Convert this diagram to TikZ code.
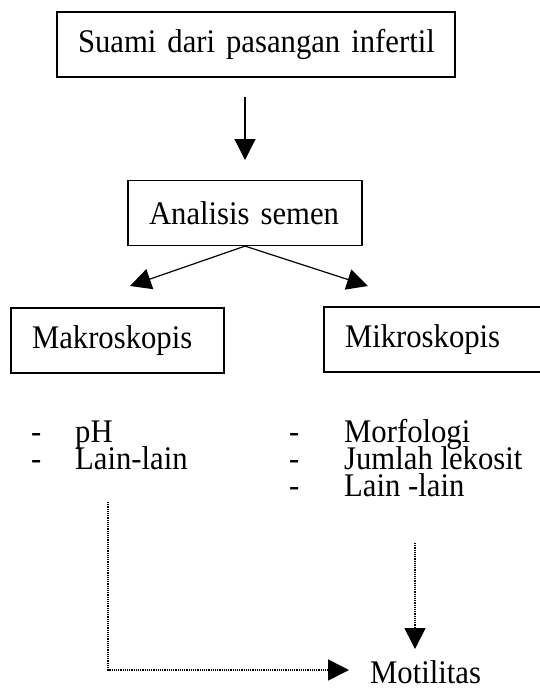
\documentclass[tikz,border=0pt]{standalone}
\usepackage{fontspec}
\setmainfont[FakeStretch=0.93]{Liberation Serif}
\usetikzlibrary{arrows.meta,positioning}
\hyphenpenalty=10000

\begin{document}
\begin{tikzpicture}[
  x=1pt,y=-1pt,
  font=\fontsize{33}{38}\selectfont,
  box/.style={draw,line width=1.2pt,inner xsep=21pt,inner ysep=0pt,
              align=left,minimum height=65pt},
  item/.style={inner sep=0pt,anchor=base west},
  arr/.style={-{Triangle[length=21pt,width=21pt]},line width=1.2pt},
  dotarr/.style={-{Triangle[length=21pt,width=21pt]},line width=1.6pt,
                 dash pattern=on 1.2pt off 1pt}
]
  \useasboundingbox (0,0) rectangle (539,689);

  \node[box,text width=356pt](top) at (256,44.5){Suami~dari~pasangan~infertil};
  \node[box,text width=192pt](analisis) at (245,213){Analisis semen};
  \node[box,text width=171pt](makro) at (117.5,340.5){Makroskopis};
  \node[box,text width=194pt](mikro) at (442,339.5){Mikroskopis};

  % lists
  \node[item](d1) at (31,442){-};
  \node[item](ph) at (75,442){pH};
  \node[item](d2) at (31,469){-};
  \node[item](lainA) at (75,469){Lain-lain};
  \node[item](d3) at (289,442){-};
  \node[item](morf) at (344,442){Morfologi};
  \node[item](d4) at (289,469){-};
  \node[item](jumlah) at (344,469){Jumlah lekosit};
  \node[item](d5) at (289,496){-};
  \node[item](lainB) at (344,496){Lain -lain};
  \node[item](mot) at (370,683){Motilitas};

  \coordinate (fromA) at (108,502);
  \coordinate (fromB) at (415,543);
  \coordinate (bend) at (108,670);
  \coordinate (toMot) at (349,670);
  \coordinate (toMotB) at (415,649);

  \draw[arr](top.south -| 245,0) ++(0,19) -- (245,160);
  \draw[arr](analisis.south) -- (130,286);
  \draw[arr](analisis.south) -- (368,286);
  \draw[dotarr](fromA) -- (bend) -- (toMot);
  \draw[dotarr](fromB) -- (toMotB);
\end{tikzpicture}
\end{document}
